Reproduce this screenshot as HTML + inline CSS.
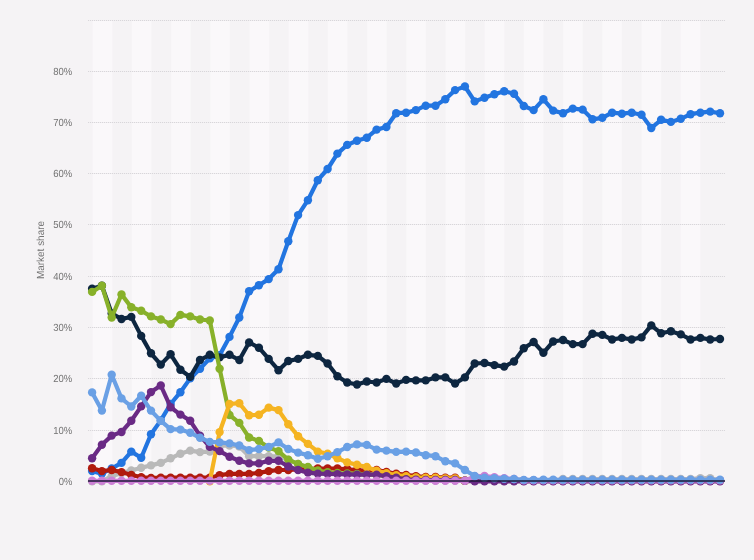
<!DOCTYPE html>
<html lang="en"><head><meta charset="utf-8"><title>Market share of mobile operating systems</title>
<style>
html,body{margin:0;padding:0;background:#f5f3f5;}
body{width:754px;height:560px;overflow:hidden;font-family:"Liberation Sans",Arial,sans-serif;}
svg{display:block;}
.lbl{font-family:"Liberation Sans",Arial,sans-serif;font-size:10.3px;fill:#737373;text-rendering:geometricPrecision;}
</style></head><body>
<svg width="754" height="560" viewBox="0 0 754 560">
<rect x="0" y="0" width="754" height="560" fill="#f5f3f5"/>

<g fill="#faf8fa">
<rect x="92.70" y="20.50" width="19.60" height="460.80"/>
<rect x="131.90" y="20.50" width="19.60" height="460.80"/>
<rect x="171.10" y="20.50" width="19.60" height="460.80"/>
<rect x="210.30" y="20.50" width="19.60" height="460.80"/>
<rect x="249.50" y="20.50" width="19.60" height="460.80"/>
<rect x="288.70" y="20.50" width="19.60" height="460.80"/>
<rect x="327.90" y="20.50" width="19.60" height="460.80"/>
<rect x="367.10" y="20.50" width="19.60" height="460.80"/>
<rect x="406.30" y="20.50" width="19.60" height="460.80"/>
<rect x="445.50" y="20.50" width="19.60" height="460.80"/>
<rect x="484.70" y="20.50" width="19.60" height="460.80"/>
<rect x="523.90" y="20.50" width="19.60" height="460.80"/>
<rect x="563.10" y="20.50" width="19.60" height="460.80"/>
<rect x="602.30" y="20.50" width="19.60" height="460.80"/>
<rect x="641.50" y="20.50" width="19.60" height="460.80"/>
<rect x="680.70" y="20.50" width="19.60" height="460.80"/>
</g>
<g stroke="#f1eff1" stroke-width="1" fill="none">
<path d="M88.0 430.50H725.0"/>
<path d="M88.0 378.50H725.0"/>
<path d="M88.0 327.50H725.0"/>
<path d="M88.0 276.50H725.0"/>
<path d="M88.0 224.50H725.0"/>
<path d="M88.0 173.50H725.0"/>
<path d="M88.0 122.50H725.0"/>
<path d="M88.0 71.50H725.0"/>
<path d="M88.0 20.50H725.0"/>
</g>
<g stroke="#d8d6da" stroke-width="1" stroke-dasharray="1 1" fill="none">
<path d="M88.0 430.50H725.0"/>
<path d="M88.0 378.50H725.0"/>
<path d="M88.0 327.50H725.0"/>
<path d="M88.0 276.50H725.0"/>
<path d="M88.0 224.50H725.0"/>
<path d="M88.0 173.50H725.0"/>
<path d="M88.0 122.50H725.0"/>
<path d="M88.0 71.50H725.0"/>
<path d="M88.0 20.50H725.0"/>
</g>
<g class="lbl" text-anchor="end">
<text transform="translate(72.3 484.80) scale(1 1.0)" textLength="13.6" lengthAdjust="spacingAndGlyphs">0%</text>
<text transform="translate(72.3 433.80) scale(1 1.0)" textLength="19.0" lengthAdjust="spacingAndGlyphs">10%</text>
<text transform="translate(72.3 381.80) scale(1 1.0)" textLength="19.0" lengthAdjust="spacingAndGlyphs">20%</text>
<text transform="translate(72.3 330.80) scale(1 1.0)" textLength="19.0" lengthAdjust="spacingAndGlyphs">30%</text>
<text transform="translate(72.3 279.80) scale(1 1.0)" textLength="19.0" lengthAdjust="spacingAndGlyphs">40%</text>
<text transform="translate(72.3 227.80) scale(1 1.0)" textLength="19.0" lengthAdjust="spacingAndGlyphs">50%</text>
<text transform="translate(72.3 176.80) scale(1 1.0)" textLength="19.0" lengthAdjust="spacingAndGlyphs">60%</text>
<text transform="translate(72.3 125.80) scale(1 1.0)" textLength="19.0" lengthAdjust="spacingAndGlyphs">70%</text>
<text transform="translate(72.3 74.80) scale(1 1.0)" textLength="19.0" lengthAdjust="spacingAndGlyphs">80%</text>
</g>
<text class="lbl" text-anchor="middle" transform="translate(43.7,250) rotate(-90) scale(1 1.0)" textLength="58.0" lengthAdjust="spacingAndGlyphs">Market share</text>
<defs><filter id="soft" x="-2%" y="-2%" width="104%" height="104%"><feGaussianBlur stdDeviation="0.4"/></filter></defs>
<g filter="url(#soft)">
<g aria-label="Android">
<path d="M92.1 471.1L101.9 473.6L111.7 468.5L121.5 462.9L131.3 451.6L141.2 457.7L151.0 434.2L160.8 420.4L170.6 404.0L180.4 392.2L190.2 378.4L200.0 368.7L209.8 358.4L219.6 355.3L229.5 336.9L239.3 317.5L249.1 291.3L258.9 285.2L268.7 279.1L278.5 269.3L288.3 241.2L298.1 215.1L307.9 200.2L317.8 180.2L327.6 169.0L337.4 153.6L347.2 144.9L357.0 140.8L366.8 137.7L376.6 129.6L386.4 127.0L396.2 113.2L406.1 112.7L415.9 110.1L425.7 105.7L435.5 105.7L445.3 99.3L455.1 90.1L464.9 86.5L474.7 101.4L484.5 97.8L494.4 94.2L504.2 91.2L514.0 93.7L523.8 106.0L533.6 110.1L543.4 99.3L553.2 110.6L563.0 113.2L572.8 108.6L582.6 109.6L592.5 119.3L602.3 117.8L612.1 112.7L621.9 113.7L631.7 112.7L641.5 114.7L651.3 128.0L661.1 119.8L670.9 121.9L680.8 118.8L690.6 114.2L700.4 112.7L710.2 111.6L720.0 113.2" fill="none" stroke="#2474e0" stroke-width="4.2" stroke-linejoin="round" stroke-linecap="round"/>
<g fill="#2474e0">
<circle cx="92.1" cy="471.1" r="4.2"/>
<circle cx="101.9" cy="473.6" r="4.2"/>
<circle cx="111.7" cy="468.5" r="4.2"/>
<circle cx="121.5" cy="462.9" r="4.2"/>
<circle cx="131.3" cy="451.6" r="4.2"/>
<circle cx="141.2" cy="457.7" r="4.2"/>
<circle cx="151.0" cy="434.2" r="4.2"/>
<circle cx="160.8" cy="420.4" r="4.2"/>
<circle cx="170.6" cy="404.0" r="4.2"/>
<circle cx="180.4" cy="392.2" r="4.2"/>
<circle cx="190.2" cy="378.4" r="4.2"/>
<circle cx="200.0" cy="368.7" r="4.2"/>
<circle cx="209.8" cy="358.4" r="4.2"/>
<circle cx="219.6" cy="355.3" r="4.2"/>
<circle cx="229.5" cy="336.9" r="4.2"/>
<circle cx="239.3" cy="317.5" r="4.2"/>
<circle cx="249.1" cy="291.3" r="4.2"/>
<circle cx="258.9" cy="285.2" r="4.2"/>
<circle cx="268.7" cy="279.1" r="4.2"/>
<circle cx="278.5" cy="269.3" r="4.2"/>
<circle cx="288.3" cy="241.2" r="4.2"/>
<circle cx="298.1" cy="215.1" r="4.2"/>
<circle cx="307.9" cy="200.2" r="4.2"/>
<circle cx="317.8" cy="180.2" r="4.2"/>
<circle cx="327.6" cy="169.0" r="4.2"/>
<circle cx="337.4" cy="153.6" r="4.2"/>
<circle cx="347.2" cy="144.9" r="4.2"/>
<circle cx="357.0" cy="140.8" r="4.2"/>
<circle cx="366.8" cy="137.7" r="4.2"/>
<circle cx="376.6" cy="129.6" r="4.2"/>
<circle cx="386.4" cy="127.0" r="4.2"/>
<circle cx="396.2" cy="113.2" r="4.2"/>
<circle cx="406.1" cy="112.7" r="4.2"/>
<circle cx="415.9" cy="110.1" r="4.2"/>
<circle cx="425.7" cy="105.7" r="4.2"/>
<circle cx="435.5" cy="105.7" r="4.2"/>
<circle cx="445.3" cy="99.3" r="4.2"/>
<circle cx="455.1" cy="90.1" r="4.2"/>
<circle cx="464.9" cy="86.5" r="4.2"/>
<circle cx="474.7" cy="101.4" r="4.2"/>
<circle cx="484.5" cy="97.8" r="4.2"/>
<circle cx="494.4" cy="94.2" r="4.2"/>
<circle cx="504.2" cy="91.2" r="4.2"/>
<circle cx="514.0" cy="93.7" r="4.2"/>
<circle cx="523.8" cy="106.0" r="4.2"/>
<circle cx="533.6" cy="110.1" r="4.2"/>
<circle cx="543.4" cy="99.3" r="4.2"/>
<circle cx="553.2" cy="110.6" r="4.2"/>
<circle cx="563.0" cy="113.2" r="4.2"/>
<circle cx="572.8" cy="108.6" r="4.2"/>
<circle cx="582.6" cy="109.6" r="4.2"/>
<circle cx="592.5" cy="119.3" r="4.2"/>
<circle cx="602.3" cy="117.8" r="4.2"/>
<circle cx="612.1" cy="112.7" r="4.2"/>
<circle cx="621.9" cy="113.7" r="4.2"/>
<circle cx="631.7" cy="112.7" r="4.2"/>
<circle cx="641.5" cy="114.7" r="4.2"/>
<circle cx="651.3" cy="128.0" r="4.2"/>
<circle cx="661.1" cy="119.8" r="4.2"/>
<circle cx="670.9" cy="121.9" r="4.2"/>
<circle cx="680.8" cy="118.8" r="4.2"/>
<circle cx="690.6" cy="114.2" r="4.2"/>
<circle cx="700.4" cy="112.7" r="4.2"/>
<circle cx="710.2" cy="111.6" r="4.2"/>
<circle cx="720.0" cy="113.2" r="4.2"/>
</g></g>
<g aria-label="iOS">
<path d="M92.1 288.8L101.9 285.7L111.7 313.4L121.5 319.0L131.3 316.9L141.2 335.9L151.0 353.3L160.8 364.6L170.6 354.3L180.4 369.7L190.2 376.9L200.0 360.0L209.8 354.8L219.6 357.4L229.5 354.8L239.3 360.0L249.1 342.5L258.9 347.7L268.7 358.9L278.5 370.2L288.3 361.0L298.1 358.9L307.9 354.8L317.8 355.9L327.6 363.5L337.4 376.3L347.2 382.5L357.0 384.5L366.8 381.5L376.6 382.5L386.4 378.9L396.2 383.5L406.1 379.9L415.9 380.4L425.7 380.4L435.5 377.4L445.3 377.4L455.1 383.5L464.9 377.4L474.7 363.5L484.5 363.0L494.4 365.1L504.2 366.6L514.0 361.5L523.8 348.2L533.6 342.0L543.4 352.8L553.2 341.5L563.0 340.0L572.8 344.1L582.6 344.1L592.5 333.8L602.3 334.9L612.1 339.5L621.9 337.9L631.7 339.5L641.5 337.4L651.3 325.4L661.1 333.3L670.9 331.3L680.8 334.4L690.6 339.5L700.4 337.9L710.2 339.5L720.0 339.0" fill="none" stroke="#0f2741" stroke-width="4.2" stroke-linejoin="round" stroke-linecap="round"/>
<g fill="#0f2741">
<circle cx="92.1" cy="288.8" r="4.2"/>
<circle cx="101.9" cy="285.7" r="4.2"/>
<circle cx="111.7" cy="313.4" r="4.2"/>
<circle cx="121.5" cy="319.0" r="4.2"/>
<circle cx="131.3" cy="316.9" r="4.2"/>
<circle cx="141.2" cy="335.9" r="4.2"/>
<circle cx="151.0" cy="353.3" r="4.2"/>
<circle cx="160.8" cy="364.6" r="4.2"/>
<circle cx="170.6" cy="354.3" r="4.2"/>
<circle cx="180.4" cy="369.7" r="4.2"/>
<circle cx="190.2" cy="376.9" r="4.2"/>
<circle cx="200.0" cy="360.0" r="4.2"/>
<circle cx="209.8" cy="354.8" r="4.2"/>
<circle cx="219.6" cy="357.4" r="4.2"/>
<circle cx="229.5" cy="354.8" r="4.2"/>
<circle cx="239.3" cy="360.0" r="4.2"/>
<circle cx="249.1" cy="342.5" r="4.2"/>
<circle cx="258.9" cy="347.7" r="4.2"/>
<circle cx="268.7" cy="358.9" r="4.2"/>
<circle cx="278.5" cy="370.2" r="4.2"/>
<circle cx="288.3" cy="361.0" r="4.2"/>
<circle cx="298.1" cy="358.9" r="4.2"/>
<circle cx="307.9" cy="354.8" r="4.2"/>
<circle cx="317.8" cy="355.9" r="4.2"/>
<circle cx="327.6" cy="363.5" r="4.2"/>
<circle cx="337.4" cy="376.3" r="4.2"/>
<circle cx="347.2" cy="382.5" r="4.2"/>
<circle cx="357.0" cy="384.5" r="4.2"/>
<circle cx="366.8" cy="381.5" r="4.2"/>
<circle cx="376.6" cy="382.5" r="4.2"/>
<circle cx="386.4" cy="378.9" r="4.2"/>
<circle cx="396.2" cy="383.5" r="4.2"/>
<circle cx="406.1" cy="379.9" r="4.2"/>
<circle cx="415.9" cy="380.4" r="4.2"/>
<circle cx="425.7" cy="380.4" r="4.2"/>
<circle cx="435.5" cy="377.4" r="4.2"/>
<circle cx="445.3" cy="377.4" r="4.2"/>
<circle cx="455.1" cy="383.5" r="4.2"/>
<circle cx="464.9" cy="377.4" r="4.2"/>
<circle cx="474.7" cy="363.5" r="4.2"/>
<circle cx="484.5" cy="363.0" r="4.2"/>
<circle cx="494.4" cy="365.1" r="4.2"/>
<circle cx="504.2" cy="366.6" r="4.2"/>
<circle cx="514.0" cy="361.5" r="4.2"/>
<circle cx="523.8" cy="348.2" r="4.2"/>
<circle cx="533.6" cy="342.0" r="4.2"/>
<circle cx="543.4" cy="352.8" r="4.2"/>
<circle cx="553.2" cy="341.5" r="4.2"/>
<circle cx="563.0" cy="340.0" r="4.2"/>
<circle cx="572.8" cy="344.1" r="4.2"/>
<circle cx="582.6" cy="344.1" r="4.2"/>
<circle cx="592.5" cy="333.8" r="4.2"/>
<circle cx="602.3" cy="334.9" r="4.2"/>
<circle cx="612.1" cy="339.5" r="4.2"/>
<circle cx="621.9" cy="337.9" r="4.2"/>
<circle cx="631.7" cy="339.5" r="4.2"/>
<circle cx="641.5" cy="337.4" r="4.2"/>
<circle cx="651.3" cy="325.4" r="4.2"/>
<circle cx="661.1" cy="333.3" r="4.2"/>
<circle cx="670.9" cy="331.3" r="4.2"/>
<circle cx="680.8" cy="334.4" r="4.2"/>
<circle cx="690.6" cy="339.5" r="4.2"/>
<circle cx="700.4" cy="337.9" r="4.2"/>
<circle cx="710.2" cy="339.5" r="4.2"/>
<circle cx="720.0" cy="339.0" r="4.2"/>
</g></g>
<g aria-label="Samsung">
<path d="M92.1 481.3L101.9 481.3L111.7 476.2L121.5 473.1L131.3 470.5L141.2 467.7L151.0 465.4L160.8 462.9L170.6 458.3L180.4 453.7L190.2 450.6L200.0 452.1L209.8 451.6L219.6 446.0L229.5 445.5L239.3 446.5L249.1 456.2L258.9 456.2L268.7 456.2L278.5 456.7L288.3 459.8L298.1 463.9L307.9 467.5L317.8 471.1L327.6 472.6L337.4 473.4L347.2 473.6L357.0 474.1L366.8 474.6L376.6 474.9L386.4 476.7L396.2 478.2L406.1 479.8L415.9 480.3L425.7 480.5L435.5 480.5L445.3 480.5L455.1 480.5L464.9 480.5L474.7 480.5L484.5 480.5L494.4 480.5L504.2 480.5L514.0 480.5L523.8 480.5L533.6 480.5L543.4 480.5L553.2 480.5L563.0 479.0L572.8 479.0L582.6 479.0L592.5 479.0L602.3 479.0L612.1 479.0L621.9 479.0L631.7 479.0L641.5 479.0L651.3 479.0L661.1 479.0L670.9 479.0L680.8 479.0L690.6 479.0L700.4 478.2L710.2 478.2L720.0 480.3" fill="none" stroke="#b9b9b9" stroke-width="4.2" stroke-linejoin="round" stroke-linecap="round"/>
<g fill="#b9b9b9">
<circle cx="92.1" cy="481.3" r="4.2"/>
<circle cx="101.9" cy="481.3" r="4.2"/>
<circle cx="111.7" cy="476.2" r="4.2"/>
<circle cx="121.5" cy="473.1" r="4.2"/>
<circle cx="131.3" cy="470.5" r="4.2"/>
<circle cx="141.2" cy="467.7" r="4.2"/>
<circle cx="151.0" cy="465.4" r="4.2"/>
<circle cx="160.8" cy="462.9" r="4.2"/>
<circle cx="170.6" cy="458.3" r="4.2"/>
<circle cx="180.4" cy="453.7" r="4.2"/>
<circle cx="190.2" cy="450.6" r="4.2"/>
<circle cx="200.0" cy="452.1" r="4.2"/>
<circle cx="209.8" cy="451.6" r="4.2"/>
<circle cx="219.6" cy="446.0" r="4.2"/>
<circle cx="229.5" cy="445.5" r="4.2"/>
<circle cx="239.3" cy="446.5" r="4.2"/>
<circle cx="249.1" cy="456.2" r="4.2"/>
<circle cx="258.9" cy="456.2" r="4.2"/>
<circle cx="268.7" cy="456.2" r="4.2"/>
<circle cx="278.5" cy="456.7" r="4.2"/>
<circle cx="288.3" cy="459.8" r="4.2"/>
<circle cx="298.1" cy="463.9" r="4.2"/>
<circle cx="307.9" cy="467.5" r="4.2"/>
<circle cx="317.8" cy="471.1" r="4.2"/>
<circle cx="327.6" cy="472.6" r="4.2"/>
<circle cx="337.4" cy="473.4" r="4.2"/>
<circle cx="347.2" cy="473.6" r="4.2"/>
<circle cx="357.0" cy="474.1" r="4.2"/>
<circle cx="366.8" cy="474.6" r="4.2"/>
<circle cx="376.6" cy="474.9" r="4.2"/>
<circle cx="386.4" cy="476.7" r="4.2"/>
<circle cx="396.2" cy="478.2" r="4.2"/>
<circle cx="406.1" cy="479.8" r="4.2"/>
<circle cx="415.9" cy="480.3" r="4.2"/>
<circle cx="425.7" cy="480.5" r="4.2"/>
<circle cx="435.5" cy="480.5" r="4.2"/>
<circle cx="445.3" cy="480.5" r="4.2"/>
<circle cx="455.1" cy="480.5" r="4.2"/>
<circle cx="464.9" cy="480.5" r="4.2"/>
<circle cx="474.7" cy="480.5" r="4.2"/>
<circle cx="484.5" cy="480.5" r="4.2"/>
<circle cx="494.4" cy="480.5" r="4.2"/>
<circle cx="504.2" cy="480.5" r="4.2"/>
<circle cx="514.0" cy="480.5" r="4.2"/>
<circle cx="523.8" cy="480.5" r="4.2"/>
<circle cx="533.6" cy="480.5" r="4.2"/>
<circle cx="543.4" cy="480.5" r="4.2"/>
<circle cx="553.2" cy="480.5" r="4.2"/>
<circle cx="563.0" cy="479.0" r="4.2"/>
<circle cx="572.8" cy="479.0" r="4.2"/>
<circle cx="582.6" cy="479.0" r="4.2"/>
<circle cx="592.5" cy="479.0" r="4.2"/>
<circle cx="602.3" cy="479.0" r="4.2"/>
<circle cx="612.1" cy="479.0" r="4.2"/>
<circle cx="621.9" cy="479.0" r="4.2"/>
<circle cx="631.7" cy="479.0" r="4.2"/>
<circle cx="641.5" cy="479.0" r="4.2"/>
<circle cx="651.3" cy="479.0" r="4.2"/>
<circle cx="661.1" cy="479.0" r="4.2"/>
<circle cx="670.9" cy="479.0" r="4.2"/>
<circle cx="680.8" cy="479.0" r="4.2"/>
<circle cx="690.6" cy="479.0" r="4.2"/>
<circle cx="700.4" cy="478.2" r="4.2"/>
<circle cx="710.2" cy="478.2" r="4.2"/>
<circle cx="720.0" cy="480.3" r="4.2"/>
</g></g>
<g aria-label="Windows">
<path d="M92.1 468.2L101.9 471.1L111.7 470.0L121.5 472.1L131.3 474.9L141.2 477.2L151.0 478.0L160.8 477.7L170.6 477.7L180.4 477.7L190.2 477.7L200.0 477.7L209.8 477.7L219.6 475.2L229.5 473.9L239.3 473.9L249.1 473.9L258.9 472.9L268.7 471.1L278.5 470.0L288.3 470.0L298.1 469.5L307.9 469.0L317.8 468.5L327.6 468.5L337.4 468.5L347.2 469.3L357.0 470.0L366.8 470.8L376.6 470.0L386.4 471.9L396.2 473.7L406.1 474.9L415.9 476.1L425.7 477.0L435.5 477.0L445.3 477.6L455.1 477.6L464.9 480.8" fill="none" stroke="#b01a10" stroke-width="4.2" stroke-linejoin="round" stroke-linecap="round"/>
<g fill="#b01a10">
<circle cx="92.1" cy="468.2" r="4.2"/>
<circle cx="101.9" cy="471.1" r="4.2"/>
<circle cx="111.7" cy="470.0" r="4.2"/>
<circle cx="121.5" cy="472.1" r="4.2"/>
<circle cx="131.3" cy="474.9" r="4.2"/>
<circle cx="141.2" cy="477.2" r="4.2"/>
<circle cx="151.0" cy="478.0" r="4.2"/>
<circle cx="160.8" cy="477.7" r="4.2"/>
<circle cx="170.6" cy="477.7" r="4.2"/>
<circle cx="180.4" cy="477.7" r="4.2"/>
<circle cx="190.2" cy="477.7" r="4.2"/>
<circle cx="200.0" cy="477.7" r="4.2"/>
<circle cx="209.8" cy="477.7" r="4.2"/>
<circle cx="219.6" cy="475.2" r="4.2"/>
<circle cx="229.5" cy="473.9" r="4.2"/>
<circle cx="239.3" cy="473.9" r="4.2"/>
<circle cx="249.1" cy="473.9" r="4.2"/>
<circle cx="258.9" cy="472.9" r="4.2"/>
<circle cx="268.7" cy="471.1" r="4.2"/>
<circle cx="278.5" cy="470.0" r="4.2"/>
<circle cx="288.3" cy="470.0" r="4.2"/>
<circle cx="298.1" cy="469.5" r="4.2"/>
<circle cx="307.9" cy="469.0" r="4.2"/>
<circle cx="317.8" cy="468.5" r="4.2"/>
<circle cx="327.6" cy="468.5" r="4.2"/>
<circle cx="337.4" cy="468.5" r="4.2"/>
<circle cx="347.2" cy="469.3" r="4.2"/>
<circle cx="357.0" cy="470.0" r="4.2"/>
<circle cx="366.8" cy="470.8" r="4.2"/>
<circle cx="376.6" cy="470.0" r="4.2"/>
<circle cx="386.4" cy="471.9" r="4.2"/>
<circle cx="396.2" cy="473.7" r="4.2"/>
<circle cx="406.1" cy="474.9" r="4.2"/>
<circle cx="415.9" cy="476.1" r="4.2"/>
<circle cx="425.7" cy="477.0" r="4.2"/>
<circle cx="435.5" cy="477.0" r="4.2"/>
<circle cx="445.3" cy="477.6" r="4.2"/>
<circle cx="455.1" cy="477.6" r="4.2"/>
<circle cx="464.9" cy="480.8" r="4.2"/>
</g></g>
<g aria-label="SymbianOS">
<path d="M92.1 291.9L101.9 285.7L111.7 317.5L121.5 294.4L131.3 307.2L141.2 310.8L151.0 316.4L160.8 319.5L170.6 324.1L180.4 314.9L190.2 316.4L200.0 319.5L209.8 320.5L219.6 368.7L229.5 415.0L239.3 422.9L249.1 437.5L258.9 440.9L268.7 447.5L278.5 451.1L288.3 459.8L298.1 463.9L307.9 467.0L317.8 470.5L327.6 472.3L337.4 473.0L347.2 473.4L357.0 473.9L366.8 474.4L376.6 474.6L386.4 476.2L396.2 476.7L406.1 477.2L415.9 477.7L425.7 478.2L435.5 478.7L445.3 479.3L455.1 479.8L464.9 480.8" fill="none" stroke="#88b12a" stroke-width="4.2" stroke-linejoin="round" stroke-linecap="round"/>
<g fill="#88b12a">
<circle cx="92.1" cy="291.9" r="4.2"/>
<circle cx="101.9" cy="285.7" r="4.2"/>
<circle cx="111.7" cy="317.5" r="4.2"/>
<circle cx="121.5" cy="294.4" r="4.2"/>
<circle cx="131.3" cy="307.2" r="4.2"/>
<circle cx="141.2" cy="310.8" r="4.2"/>
<circle cx="151.0" cy="316.4" r="4.2"/>
<circle cx="160.8" cy="319.5" r="4.2"/>
<circle cx="170.6" cy="324.1" r="4.2"/>
<circle cx="180.4" cy="314.9" r="4.2"/>
<circle cx="190.2" cy="316.4" r="4.2"/>
<circle cx="200.0" cy="319.5" r="4.2"/>
<circle cx="209.8" cy="320.5" r="4.2"/>
<circle cx="219.6" cy="368.7" r="4.2"/>
<circle cx="229.5" cy="415.0" r="4.2"/>
<circle cx="239.3" cy="422.9" r="4.2"/>
<circle cx="249.1" cy="437.5" r="4.2"/>
<circle cx="258.9" cy="440.9" r="4.2"/>
<circle cx="268.7" cy="447.5" r="4.2"/>
<circle cx="278.5" cy="451.1" r="4.2"/>
<circle cx="288.3" cy="459.8" r="4.2"/>
<circle cx="298.1" cy="463.9" r="4.2"/>
<circle cx="307.9" cy="467.0" r="4.2"/>
<circle cx="317.8" cy="470.5" r="4.2"/>
<circle cx="327.6" cy="472.3" r="4.2"/>
<circle cx="337.4" cy="473.0" r="4.2"/>
<circle cx="347.2" cy="473.4" r="4.2"/>
<circle cx="357.0" cy="473.9" r="4.2"/>
<circle cx="366.8" cy="474.4" r="4.2"/>
<circle cx="376.6" cy="474.6" r="4.2"/>
<circle cx="386.4" cy="476.2" r="4.2"/>
<circle cx="396.2" cy="476.7" r="4.2"/>
<circle cx="406.1" cy="477.2" r="4.2"/>
<circle cx="415.9" cy="477.7" r="4.2"/>
<circle cx="425.7" cy="478.2" r="4.2"/>
<circle cx="435.5" cy="478.7" r="4.2"/>
<circle cx="445.3" cy="479.3" r="4.2"/>
<circle cx="455.1" cy="479.8" r="4.2"/>
<circle cx="464.9" cy="480.8" r="4.2"/>
</g></g>
<g aria-label="Series 40">
<path d="M209.8 481.3L219.6 432.1L229.5 404.0L239.3 403.2L249.1 415.3L258.9 414.7L268.7 407.6L278.5 410.1L288.3 424.2L298.1 436.2L307.9 443.9L317.8 451.6L327.6 453.7L337.4 458.3L347.2 462.4L357.0 464.7L366.8 467.0L376.6 470.7L386.4 473.1L396.2 475.2L406.1 476.3L415.9 477.5L425.7 477.8L435.5 477.8L445.3 478.4L455.1 478.4L464.9 480.8" fill="none" stroke="#f5b420" stroke-width="4.2" stroke-linejoin="round" stroke-linecap="round"/>
<g fill="#f5b420">
<circle cx="209.8" cy="481.3" r="4.2"/>
<circle cx="219.6" cy="432.1" r="4.2"/>
<circle cx="229.5" cy="404.0" r="4.2"/>
<circle cx="239.3" cy="403.2" r="4.2"/>
<circle cx="249.1" cy="415.3" r="4.2"/>
<circle cx="258.9" cy="414.7" r="4.2"/>
<circle cx="268.7" cy="407.6" r="4.2"/>
<circle cx="278.5" cy="410.1" r="4.2"/>
<circle cx="288.3" cy="424.2" r="4.2"/>
<circle cx="298.1" cy="436.2" r="4.2"/>
<circle cx="307.9" cy="443.9" r="4.2"/>
<circle cx="317.8" cy="451.6" r="4.2"/>
<circle cx="327.6" cy="453.7" r="4.2"/>
<circle cx="337.4" cy="458.3" r="4.2"/>
<circle cx="347.2" cy="462.4" r="4.2"/>
<circle cx="357.0" cy="464.7" r="4.2"/>
<circle cx="366.8" cy="467.0" r="4.2"/>
<circle cx="376.6" cy="470.7" r="4.2"/>
<circle cx="386.4" cy="473.1" r="4.2"/>
<circle cx="396.2" cy="475.2" r="4.2"/>
<circle cx="406.1" cy="476.3" r="4.2"/>
<circle cx="415.9" cy="477.5" r="4.2"/>
<circle cx="425.7" cy="477.8" r="4.2"/>
<circle cx="435.5" cy="477.8" r="4.2"/>
<circle cx="445.3" cy="478.4" r="4.2"/>
<circle cx="455.1" cy="478.4" r="4.2"/>
<circle cx="464.9" cy="480.8" r="4.2"/>
</g></g>
<g aria-label="BlackBerry OS">
<path d="M92.1 458.2L101.9 444.8L111.7 435.6L121.5 432.0L131.3 420.8L141.2 406.4L151.0 392.1L160.8 385.5L170.6 407.2L180.4 414.6L190.2 420.8L200.0 435.6L209.8 446.9L219.6 451.1L229.5 456.7L239.3 460.8L249.1 463.4L258.9 463.4L268.7 460.8L278.5 460.8L288.3 466.5L298.1 470.0L307.9 472.6L317.8 473.6L327.6 473.9L337.4 474.1L347.2 474.4L357.0 474.6L366.8 474.6L376.6 474.6L386.4 476.2L396.2 477.7L406.1 479.3L415.9 479.8L425.7 480.0L435.5 480.0L445.3 480.0L455.1 480.0L464.9 480.8L474.7 481.3L484.5 481.3L494.4 481.3L504.2 481.3L514.0 481.3L523.8 481.3L533.6 481.3L543.4 481.3L553.2 481.3L563.0 481.3L572.8 481.3L582.6 481.3L592.5 481.3L602.3 481.3L612.1 481.3L621.9 481.3L631.7 481.3L641.5 481.3L651.3 481.3L661.1 481.3L670.9 481.3L680.8 481.3L690.6 481.3L700.4 481.3L710.2 481.3L720.0 481.3" fill="none" stroke="#6a2c85" stroke-width="4.2" stroke-linejoin="round" stroke-linecap="round"/>
<g fill="#6a2c85">
<circle cx="92.1" cy="458.2" r="4.2"/>
<circle cx="101.9" cy="444.8" r="4.2"/>
<circle cx="111.7" cy="435.6" r="4.2"/>
<circle cx="121.5" cy="432.0" r="4.2"/>
<circle cx="131.3" cy="420.8" r="4.2"/>
<circle cx="141.2" cy="406.4" r="4.2"/>
<circle cx="151.0" cy="392.1" r="4.2"/>
<circle cx="160.8" cy="385.5" r="4.2"/>
<circle cx="170.6" cy="407.2" r="4.2"/>
<circle cx="180.4" cy="414.6" r="4.2"/>
<circle cx="190.2" cy="420.8" r="4.2"/>
<circle cx="200.0" cy="435.6" r="4.2"/>
<circle cx="209.8" cy="446.9" r="4.2"/>
<circle cx="219.6" cy="451.1" r="4.2"/>
<circle cx="229.5" cy="456.7" r="4.2"/>
<circle cx="239.3" cy="460.8" r="4.2"/>
<circle cx="249.1" cy="463.4" r="4.2"/>
<circle cx="258.9" cy="463.4" r="4.2"/>
<circle cx="268.7" cy="460.8" r="4.2"/>
<circle cx="278.5" cy="460.8" r="4.2"/>
<circle cx="288.3" cy="466.5" r="4.2"/>
<circle cx="298.1" cy="470.0" r="4.2"/>
<circle cx="307.9" cy="472.6" r="4.2"/>
<circle cx="317.8" cy="473.6" r="4.2"/>
<circle cx="327.6" cy="473.9" r="4.2"/>
<circle cx="337.4" cy="474.1" r="4.2"/>
<circle cx="347.2" cy="474.4" r="4.2"/>
<circle cx="357.0" cy="474.6" r="4.2"/>
<circle cx="366.8" cy="474.6" r="4.2"/>
<circle cx="376.6" cy="474.6" r="4.2"/>
<circle cx="386.4" cy="476.2" r="4.2"/>
<circle cx="396.2" cy="477.7" r="4.2"/>
<circle cx="406.1" cy="479.3" r="4.2"/>
<circle cx="415.9" cy="479.8" r="4.2"/>
<circle cx="425.7" cy="480.0" r="4.2"/>
<circle cx="435.5" cy="480.0" r="4.2"/>
<circle cx="445.3" cy="480.0" r="4.2"/>
<circle cx="455.1" cy="480.0" r="4.2"/>
<circle cx="464.9" cy="480.8" r="4.2"/>
<circle cx="474.7" cy="481.3" r="4.2"/>
<circle cx="484.5" cy="481.3" r="4.2"/>
<circle cx="494.4" cy="481.3" r="4.2"/>
<circle cx="504.2" cy="481.3" r="4.2"/>
<circle cx="514.0" cy="481.3" r="4.2"/>
<circle cx="523.8" cy="481.3" r="4.2"/>
<circle cx="533.6" cy="481.3" r="4.2"/>
<circle cx="543.4" cy="481.3" r="4.2"/>
<circle cx="553.2" cy="481.3" r="4.2"/>
<circle cx="563.0" cy="481.3" r="4.2"/>
<circle cx="572.8" cy="481.3" r="4.2"/>
<circle cx="582.6" cy="481.3" r="4.2"/>
<circle cx="592.5" cy="481.3" r="4.2"/>
<circle cx="602.3" cy="481.3" r="4.2"/>
<circle cx="612.1" cy="481.3" r="4.2"/>
<circle cx="621.9" cy="481.3" r="4.2"/>
<circle cx="631.7" cy="481.3" r="4.2"/>
<circle cx="641.5" cy="481.3" r="4.2"/>
<circle cx="651.3" cy="481.3" r="4.2"/>
<circle cx="661.1" cy="481.3" r="4.2"/>
<circle cx="670.9" cy="481.3" r="4.2"/>
<circle cx="680.8" cy="481.3" r="4.2"/>
<circle cx="690.6" cy="481.3" r="4.2"/>
<circle cx="700.4" cy="481.3" r="4.2"/>
<circle cx="710.2" cy="481.3" r="4.2"/>
<circle cx="720.0" cy="481.3" r="4.2"/>
</g></g>
<g aria-label="KaiOS">
<path d="M92.1 480.8L101.9 480.8L111.7 480.8L121.5 480.8L131.3 480.8L141.2 480.8L151.0 480.8L160.8 480.8L170.6 480.8L180.4 480.8L190.2 480.8L200.0 480.8L209.8 480.8L219.6 480.8L229.5 480.8L239.3 480.8L249.1 480.8L258.9 480.8L268.7 480.8L278.5 480.8L288.3 480.8L298.1 480.8L307.9 480.8L317.8 480.8L327.6 480.8L337.4 480.8L347.2 480.8L357.0 480.8L366.8 480.8L376.6 480.8L386.4 480.8L396.2 480.8L406.1 480.8L415.9 480.8L425.7 480.8L435.5 480.8L445.3 480.8L455.1 480.8L464.9 480.8L474.7 476.2L484.5 476.0L494.4 477.2L504.2 478.2L514.0 479.0L523.8 480.3L533.6 480.3L543.4 480.3L553.2 480.3L563.0 480.3L572.8 480.3L582.6 480.3L592.5 480.3L602.3 480.3L612.1 480.3L621.9 480.3L631.7 480.3L641.5 480.3L651.3 480.3L661.1 480.3L670.9 480.3L680.8 480.3L690.6 480.3L700.4 480.3L710.2 480.3L720.0 480.3" fill="none" stroke="#cd7fd6" stroke-width="4.2" stroke-linejoin="round" stroke-linecap="round"/>
<g fill="#cd7fd6">
<circle cx="92.1" cy="480.8" r="4.2"/>
<circle cx="101.9" cy="480.8" r="4.2"/>
<circle cx="111.7" cy="480.8" r="4.2"/>
<circle cx="121.5" cy="480.8" r="4.2"/>
<circle cx="131.3" cy="480.8" r="4.2"/>
<circle cx="141.2" cy="480.8" r="4.2"/>
<circle cx="151.0" cy="480.8" r="4.2"/>
<circle cx="160.8" cy="480.8" r="4.2"/>
<circle cx="170.6" cy="480.8" r="4.2"/>
<circle cx="180.4" cy="480.8" r="4.2"/>
<circle cx="190.2" cy="480.8" r="4.2"/>
<circle cx="200.0" cy="480.8" r="4.2"/>
<circle cx="209.8" cy="480.8" r="4.2"/>
<circle cx="219.6" cy="480.8" r="4.2"/>
<circle cx="229.5" cy="480.8" r="4.2"/>
<circle cx="239.3" cy="480.8" r="4.2"/>
<circle cx="249.1" cy="480.8" r="4.2"/>
<circle cx="258.9" cy="480.8" r="4.2"/>
<circle cx="268.7" cy="480.8" r="4.2"/>
<circle cx="278.5" cy="480.8" r="4.2"/>
<circle cx="288.3" cy="480.8" r="4.2"/>
<circle cx="298.1" cy="480.8" r="4.2"/>
<circle cx="307.9" cy="480.8" r="4.2"/>
<circle cx="317.8" cy="480.8" r="4.2"/>
<circle cx="327.6" cy="480.8" r="4.2"/>
<circle cx="337.4" cy="480.8" r="4.2"/>
<circle cx="347.2" cy="480.8" r="4.2"/>
<circle cx="357.0" cy="480.8" r="4.2"/>
<circle cx="366.8" cy="480.8" r="4.2"/>
<circle cx="376.6" cy="480.8" r="4.2"/>
<circle cx="386.4" cy="480.8" r="4.2"/>
<circle cx="396.2" cy="480.8" r="4.2"/>
<circle cx="406.1" cy="480.8" r="4.2"/>
<circle cx="415.9" cy="480.8" r="4.2"/>
<circle cx="425.7" cy="480.8" r="4.2"/>
<circle cx="435.5" cy="480.8" r="4.2"/>
<circle cx="445.3" cy="480.8" r="4.2"/>
<circle cx="455.1" cy="480.8" r="4.2"/>
<circle cx="464.9" cy="480.8" r="4.2"/>
<circle cx="474.7" cy="476.2" r="4.2"/>
<circle cx="484.5" cy="476.0" r="4.2"/>
<circle cx="494.4" cy="477.2" r="4.2"/>
<circle cx="504.2" cy="478.2" r="4.2"/>
<circle cx="514.0" cy="479.0" r="4.2"/>
<circle cx="523.8" cy="480.3" r="4.2"/>
<circle cx="533.6" cy="480.3" r="4.2"/>
<circle cx="543.4" cy="480.3" r="4.2"/>
<circle cx="553.2" cy="480.3" r="4.2"/>
<circle cx="563.0" cy="480.3" r="4.2"/>
<circle cx="572.8" cy="480.3" r="4.2"/>
<circle cx="582.6" cy="480.3" r="4.2"/>
<circle cx="592.5" cy="480.3" r="4.2"/>
<circle cx="602.3" cy="480.3" r="4.2"/>
<circle cx="612.1" cy="480.3" r="4.2"/>
<circle cx="621.9" cy="480.3" r="4.2"/>
<circle cx="631.7" cy="480.3" r="4.2"/>
<circle cx="641.5" cy="480.3" r="4.2"/>
<circle cx="651.3" cy="480.3" r="4.2"/>
<circle cx="661.1" cy="480.3" r="4.2"/>
<circle cx="670.9" cy="480.3" r="4.2"/>
<circle cx="680.8" cy="480.3" r="4.2"/>
<circle cx="690.6" cy="480.3" r="4.2"/>
<circle cx="700.4" cy="480.3" r="4.2"/>
<circle cx="710.2" cy="480.3" r="4.2"/>
<circle cx="720.0" cy="480.3" r="4.2"/>
</g></g>
<g aria-label="Unknown">
<path d="M92.1 392.4L101.9 410.6L111.7 374.8L121.5 398.4L131.3 406.5L141.2 395.8L151.0 410.6L160.8 420.9L170.6 429.1L180.4 429.6L190.2 432.7L200.0 437.8L209.8 441.9L219.6 442.4L229.5 443.4L239.3 445.5L249.1 450.1L258.9 449.0L268.7 447.0L278.5 442.4L288.3 449.0L298.1 452.6L307.9 455.2L317.8 458.8L327.6 456.2L337.4 452.1L347.2 447.0L357.0 444.4L366.8 444.9L376.6 449.6L386.4 450.6L396.2 451.9L406.1 451.6L415.9 452.5L425.7 455.2L435.5 456.2L445.3 461.3L455.1 463.4L464.9 470.0L474.7 476.0L484.5 477.7L494.4 478.2L504.2 478.7L514.0 479.0L523.8 479.9L533.6 479.9L543.4 479.8L553.2 479.8L563.0 479.8L572.8 479.8L582.6 479.8L592.5 479.8L602.3 479.8L612.1 479.8L621.9 479.8L631.7 479.8L641.5 479.8L651.3 479.8L661.1 479.8L670.9 479.8L680.8 479.8L690.6 479.8L700.4 479.8L710.2 479.8L720.0 479.8" fill="none" stroke="#6aa0e5" stroke-width="4.2" stroke-linejoin="round" stroke-linecap="round"/>
<g fill="#6aa0e5">
<circle cx="92.1" cy="392.4" r="4.2"/>
<circle cx="101.9" cy="410.6" r="4.2"/>
<circle cx="111.7" cy="374.8" r="4.2"/>
<circle cx="121.5" cy="398.4" r="4.2"/>
<circle cx="131.3" cy="406.5" r="4.2"/>
<circle cx="141.2" cy="395.8" r="4.2"/>
<circle cx="151.0" cy="410.6" r="4.2"/>
<circle cx="160.8" cy="420.9" r="4.2"/>
<circle cx="170.6" cy="429.1" r="4.2"/>
<circle cx="180.4" cy="429.6" r="4.2"/>
<circle cx="190.2" cy="432.7" r="4.2"/>
<circle cx="200.0" cy="437.8" r="4.2"/>
<circle cx="209.8" cy="441.9" r="4.2"/>
<circle cx="219.6" cy="442.4" r="4.2"/>
<circle cx="229.5" cy="443.4" r="4.2"/>
<circle cx="239.3" cy="445.5" r="4.2"/>
<circle cx="249.1" cy="450.1" r="4.2"/>
<circle cx="258.9" cy="449.0" r="4.2"/>
<circle cx="268.7" cy="447.0" r="4.2"/>
<circle cx="278.5" cy="442.4" r="4.2"/>
<circle cx="288.3" cy="449.0" r="4.2"/>
<circle cx="298.1" cy="452.6" r="4.2"/>
<circle cx="307.9" cy="455.2" r="4.2"/>
<circle cx="317.8" cy="458.8" r="4.2"/>
<circle cx="327.6" cy="456.2" r="4.2"/>
<circle cx="337.4" cy="452.1" r="4.2"/>
<circle cx="347.2" cy="447.0" r="4.2"/>
<circle cx="357.0" cy="444.4" r="4.2"/>
<circle cx="366.8" cy="444.9" r="4.2"/>
<circle cx="376.6" cy="449.6" r="4.2"/>
<circle cx="386.4" cy="450.6" r="4.2"/>
<circle cx="396.2" cy="451.9" r="4.2"/>
<circle cx="406.1" cy="451.6" r="4.2"/>
<circle cx="415.9" cy="452.5" r="4.2"/>
<circle cx="425.7" cy="455.2" r="4.2"/>
<circle cx="435.5" cy="456.2" r="4.2"/>
<circle cx="445.3" cy="461.3" r="4.2"/>
<circle cx="455.1" cy="463.4" r="4.2"/>
<circle cx="464.9" cy="470.0" r="4.2"/>
<circle cx="474.7" cy="476.0" r="4.2"/>
<circle cx="484.5" cy="477.7" r="4.2"/>
<circle cx="494.4" cy="478.2" r="4.2"/>
<circle cx="504.2" cy="478.7" r="4.2"/>
<circle cx="514.0" cy="479.0" r="4.2"/>
<circle cx="523.8" cy="479.9" r="4.2"/>
<circle cx="533.6" cy="479.9" r="4.2"/>
<circle cx="543.4" cy="479.8" r="4.2"/>
<circle cx="553.2" cy="479.8" r="4.2"/>
<circle cx="563.0" cy="479.8" r="4.2"/>
<circle cx="572.8" cy="479.8" r="4.2"/>
<circle cx="582.6" cy="479.8" r="4.2"/>
<circle cx="592.5" cy="479.8" r="4.2"/>
<circle cx="602.3" cy="479.8" r="4.2"/>
<circle cx="612.1" cy="479.8" r="4.2"/>
<circle cx="621.9" cy="479.8" r="4.2"/>
<circle cx="631.7" cy="479.8" r="4.2"/>
<circle cx="641.5" cy="479.8" r="4.2"/>
<circle cx="651.3" cy="479.8" r="4.2"/>
<circle cx="661.1" cy="479.8" r="4.2"/>
<circle cx="670.9" cy="479.8" r="4.2"/>
<circle cx="680.8" cy="479.8" r="4.2"/>
<circle cx="690.6" cy="479.8" r="4.2"/>
<circle cx="700.4" cy="479.8" r="4.2"/>
<circle cx="710.2" cy="479.8" r="4.2"/>
<circle cx="720.0" cy="479.8" r="4.2"/>
</g></g>
<path d="M88.0 481.10H725.0" stroke="#1d1838" stroke-width="1.5" fill="none"/>
</g>
</svg></body></html>
